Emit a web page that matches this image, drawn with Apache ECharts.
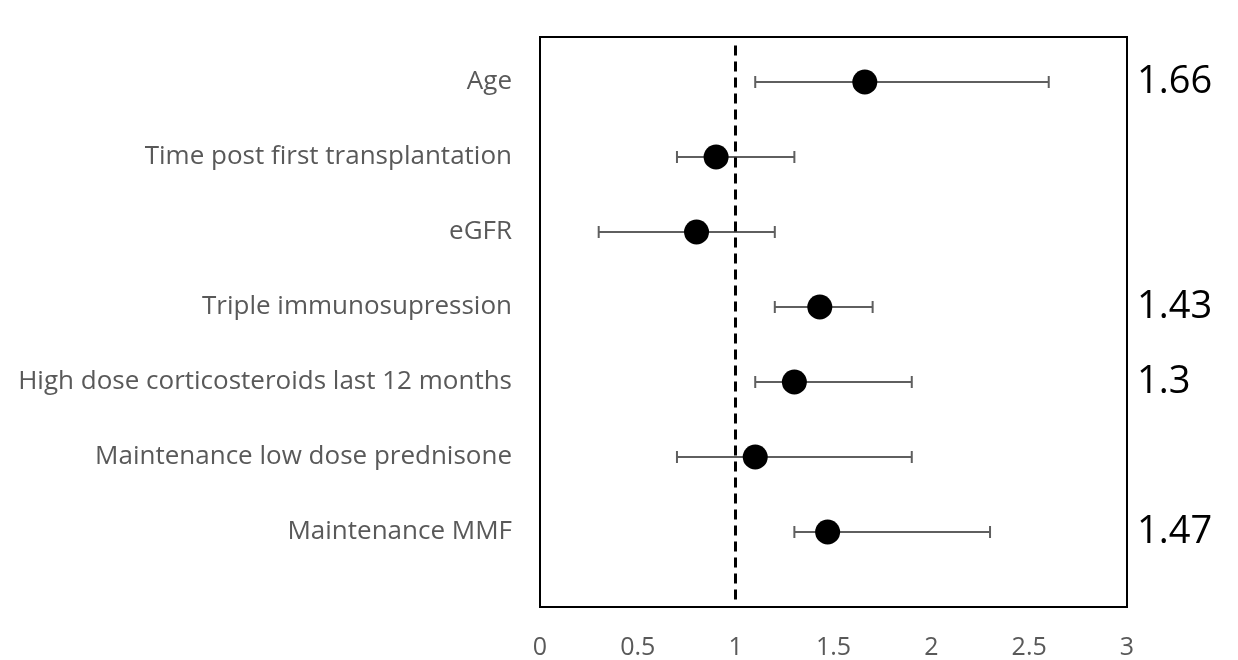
<!DOCTYPE html>
<html>
<head>
<meta charset="utf-8">
<script src="https://cdn.jsdelivr.net/npm/echarts@6/dist/echarts.min.js"></script>
<style>
  html, body { margin: 0; padding: 0; background: #fff; }
  #chart { width: 1238px; height: 660px; }
</style>
</head>
<body>
<div id="chart"></div>
<script>
// Forest plot: odds ratios with 95% confidence intervals
const factors = [
  'Age',
  'Time post first transplantation',
  'eGFR',
  'Triple immunosupression',
  'High dose corticosteroids last 12 months',
  'Maintenance low dose prednisone',
  'Maintenance MMF'
];
const estimates = [1.66, 0.9, 0.8, 1.43, 1.3, 1.1, 1.47];
const lowerCI = [1.1, 0.7, 0.3, 1.2, 1.1, 0.7, 1.3];
const upperCI = [2.6, 1.3, 1.2, 1.7, 1.9, 1.9, 2.3];
const shownLabels = ['1.66', '', '', '1.43', '1.3', '', '1.47'];
const xTicks = [0, 0.5, 1, 1.5, 2, 2.5, 3];
const referenceLine = 1;

// rows from top (highest y) to bottom
const rowPos = factors.map((_, i) => factors.length - i);

const chart = echarts.init(document.getElementById('chart'));

const font = '"Open Sans", "Liberation Sans", sans-serif';
const grey = '#595959';

chart.setOption({
  animation: false,
  backgroundColor: '#ffffff',
  grid: {
    left: 540, right: 111, top: 37, bottom: 53,
    show: true, borderColor: '#000', borderWidth: 2, backgroundColor: 'transparent'
  },
  xAxis: {
    type: 'value',
    min: xTicks[0], max: xTicks[xTicks.length - 1], interval: 0.5,
    axisLine: { show: true, lineStyle: { color: '#000', width: 2 } },
    axisTick: { show: false },
    splitLine: { show: false },
    axisLabel: {
      color: grey, fontFamily: font, fontSize: 25, margin: 28,
      formatter: v => String(v)
    }
  },
  yAxis: {
    type: 'value',
    min: 0, max: 7.6, interval: 1,
    axisLine: { show: true, lineStyle: { color: '#000', width: 2 } },
    axisTick: { show: false },
    splitLine: { show: false },
    axisLabel: {
      color: grey, fontFamily: font, fontSize: 26, margin: 28,
      padding: [4, 0, 0, 0],
      formatter: v => {
        const idx = rowPos.indexOf(Math.round(v));
        return (Math.abs(v - Math.round(v)) < 1e-6 && idx >= 0) ? factors[idx] : '';
      }
    }
  },
  series: [
    {
      // confidence interval whiskers
      type: 'custom',
      data: factors.map((_, i) => [lowerCI[i], upperCI[i], rowPos[i]]),
      renderItem: (params, api) => {
        const lo = api.coord([api.value(0), api.value(2)]);
        const hi = api.coord([api.value(1), api.value(2)]);
        const cap = 6;
        const style = { stroke: '#5f5f5f', lineWidth: 2 };
        return {
          type: 'group',
          children: [
            { type: 'line', shape: { x1: lo[0], y1: lo[1], x2: hi[0], y2: hi[1] }, style },
            { type: 'line', shape: { x1: lo[0], y1: lo[1] - cap, x2: lo[0], y2: lo[1] + cap }, style },
            { type: 'line', shape: { x1: hi[0], y1: hi[1] - cap, x2: hi[0], y2: hi[1] + cap }, style }
          ]
        };
      },
      z: 2
    },
    {
      // point estimates
      type: 'scatter',
      data: factors.map((_, i) => [estimates[i], rowPos[i]]),
      symbol: 'circle',
      symbolSize: 25,
      itemStyle: { color: '#000', opacity: 1 },
      z: 4,
      markLine: {
        silent: true,
        symbol: 'none',
        label: { show: false },
        lineStyle: { color: '#000', type: [10, 6], width: 3, opacity: 1 },
        data: [[
          { coord: [referenceLine, 0.1] },
          { coord: [referenceLine, 7.52] }
        ]]
      }
    },
    {
      // estimate values printed to the right of the frame
      type: 'scatter',
      data: factors.map((_, i) => ({
        value: [xTicks[xTicks.length - 1], rowPos[i]],
        label: { show: shownLabels[i] !== '', formatter: shownLabels[i] }
      })),
      symbolSize: 0,
      clip: false,
      silent: true,
      itemStyle: { opacity: 1 },
      label: {
        position: 'right', distance: 10, padding: [5, 0, 0, 0],
        color: '#000', fontFamily: font, fontSize: 38
      }
    }
  ]
});
</script>
</body>
</html>
